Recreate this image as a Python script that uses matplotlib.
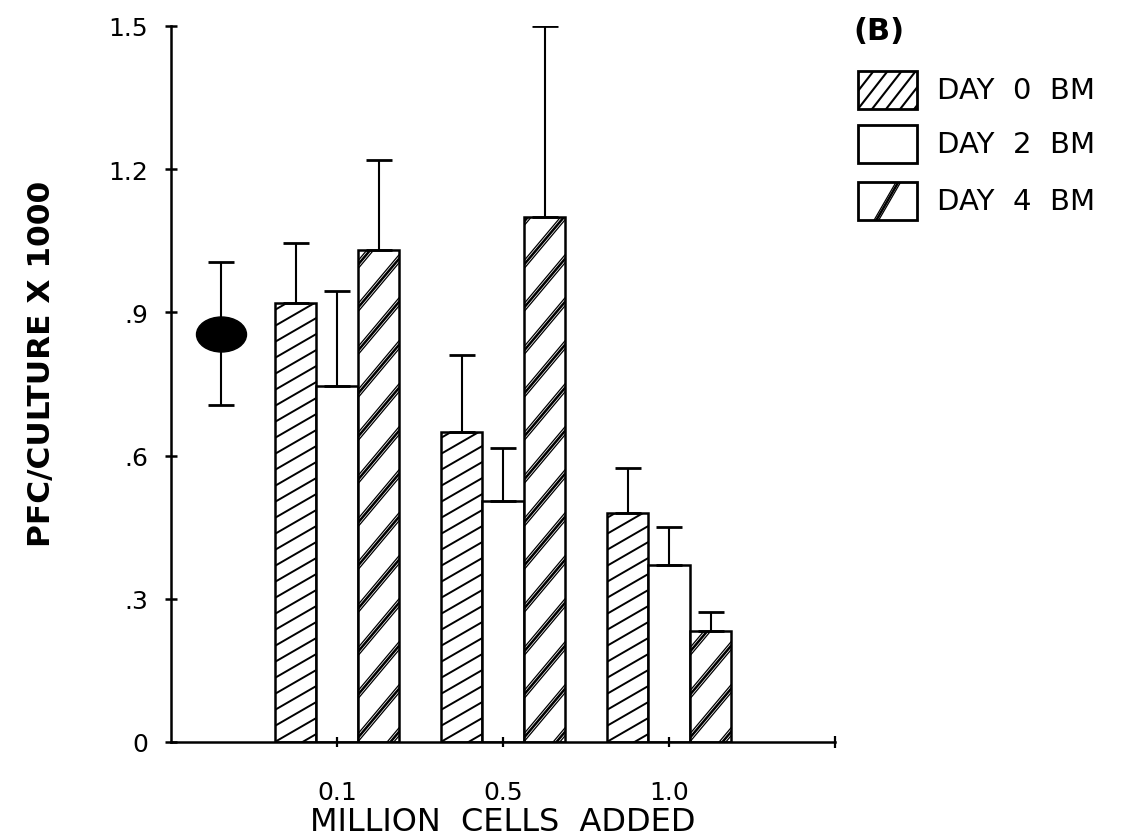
import numpy as np
import matplotlib
matplotlib.use('Agg')
import matplotlib.pyplot as plt
from matplotlib.collections import LineCollection
from matplotlib.patches import Rectangle
from matplotlib.path import Path
from matplotlib.transforms import Affine2D, IdentityTransform

# data
groups = ['0.1', '0.5', '1.0']
day0 = [0.92, 0.65, 0.48]
day0_err = [0.125, 0.16, 0.095]
day2 = [0.745, 0.505, 0.37]
day2_err = [0.20, 0.11, 0.08]
day4 = [1.03, 1.10, 0.233]
day4_err = [0.19, 0.40, 0.04]
control = 0.855
control_err = 0.15
yticks = [0, 0.3, 0.6, 0.9, 1.2, 1.5]
ytick_labels = ['0', '.3', '.6', '.9', '1.2', '1.5']

W, H = 1144, 837
fig = plt.figure(figsize=(W / 100, H / 100), dpi=100)
ax = fig.add_axes([171 / W, 1 - 743 / H, 664 / W, 716 / H])
ax.set_xlim(0, 4)
ax.set_ylim(0, 1.5)


def stripes(parent, clip, box, angle, step, offs, lw, phase=0):
    # diagonal line fill in pixel space, clipped to a patch
    x0, y0, x1, y1 = box
    k = np.tan(np.radians(angle))
    segs = []
    n_lo = int(np.floor((-k * (x1 - x0) - phase) / step)) - 1
    n_hi = int(np.ceil((y1 - y0 - phase) / step)) + 1
    for n in range(n_lo, n_hi + 1):
        c = y0 + phase + n * step
        for o in offs:
            segs.append([(x0 - 3, c + o - 3 * k), (x1 + 3, c + o + k * (x1 - x0 + 3))])
    lc = LineCollection(segs, colors='black', linewidths=lw, transform=IdentityTransform(), zorder=1.5)
    if parent is ax:
        ax.add_collection(lc, autolim=False)
    else:
        fig.add_artist(lc)
    lc.set_clip_path(clip)


x = np.arange(1, len(groups) + 1)
bw = 0.25
b0 = ax.bar(x - bw, day0, bw, color='white', edgecolor='black', linewidth=1.8, zorder=1)
b2 = ax.bar(x, day2, bw, color='white', edgecolor='black', linewidth=1.8, zorder=1)
b4 = ax.bar(x + bw, day4, bw, color='white', edgecolor='black', linewidth=1.8, zorder=1)

for r in b0:
    e = r.get_window_extent()
    stripes(ax, r, (e.x0, e.y0, e.x1, e.y1), 30, 16, [0], 1.4)
for r in b4:
    e = r.get_window_extent()
    stripes(ax, r, (e.x0, e.y0, e.x1, e.y1), 50, 43, [0, 4, 8], [0.9, 1.8, 0.9])

for xs, vals, errs in [(x - bw, day0, day0_err), (x, day2, day2_err), (x + bw, day4, day4_err)]:
    ax.errorbar(xs, vals, yerr=[np.zeros(len(vals)), errs], fmt='none', ecolor='black',
                elinewidth=1.5, capsize=9.5, capthick=2, zorder=3)

# control point (ellipse marker)
ell = Path.unit_circle().transformed(Affine2D().scale(1, 0.7))
ax.errorbar([0.3], [control], yerr=[control_err], fmt='none', ecolor='black',
            elinewidth=1.5, capsize=9.5, capthick=2, zorder=3)
ax.plot([0.3], [control], marker=ell, markersize=36, color='black', linestyle='none', zorder=4)

for s in ['top', 'right']:
    ax.spines[s].set_visible(False)
for s in ['left', 'bottom']:
    ax.spines[s].set_linewidth(1.8)

ax.set_yticks(yticks, ytick_labels)
ax.set_xticks(x, groups)
ax.set_xticks([4], minor=True)
ax.tick_params(axis='y', direction='inout', length=9, width=1.8, pad=12, labelsize=18)
ax.tick_params(axis='x', direction='inout', length=7, width=1.6, pad=24, labelsize=18)
ax.tick_params(axis='x', which='minor', direction='inout', length=9, width=1.6)

fig.text(503 / W, 1 - 823 / H, 'MILLION  CELLS  ADDED', ha='center', va='center', fontsize=23)
fig.text(42 / W, 1 - 364 / H, 'PFC/CULTURE X 1000', rotation=90, ha='center', va='center',
         fontsize=22.5, fontweight='bold', family='DejaVu Sans')

# legend
fig.text(853 / W, 1 - 32 / H, '(B)', ha='left', va='center', fontsize=22, fontweight='bold')
labels = ['DAY  0  BM', 'DAY  2  BM', 'DAY  4  BM']
tops = [72, 126, 183]
for i, (lab, t) in enumerate(zip(labels, tops)):
    y0 = H - t - 38
    box = Rectangle((858, y0), 59, 38, facecolor='white', edgecolor='black', linewidth=2,
                    transform=IdentityTransform(), zorder=1)
    fig.add_artist(box)
    if i == 0:
        stripes(fig, box, (858, y0, 917, y0 + 38), 52, 18, [0], 1.5)
    elif i == 2:
        stripes(fig, box, (858, y0, 917, y0 + 38), 60, 300, [-4, 0, 4], [0.9, 1.8, 0.9], phase=-32)
    fig.text(937 / W, (y0 + 19) / H, lab, ha='left', va='center', fontsize=21)

fig.savefig('out.png', dpi=100)
